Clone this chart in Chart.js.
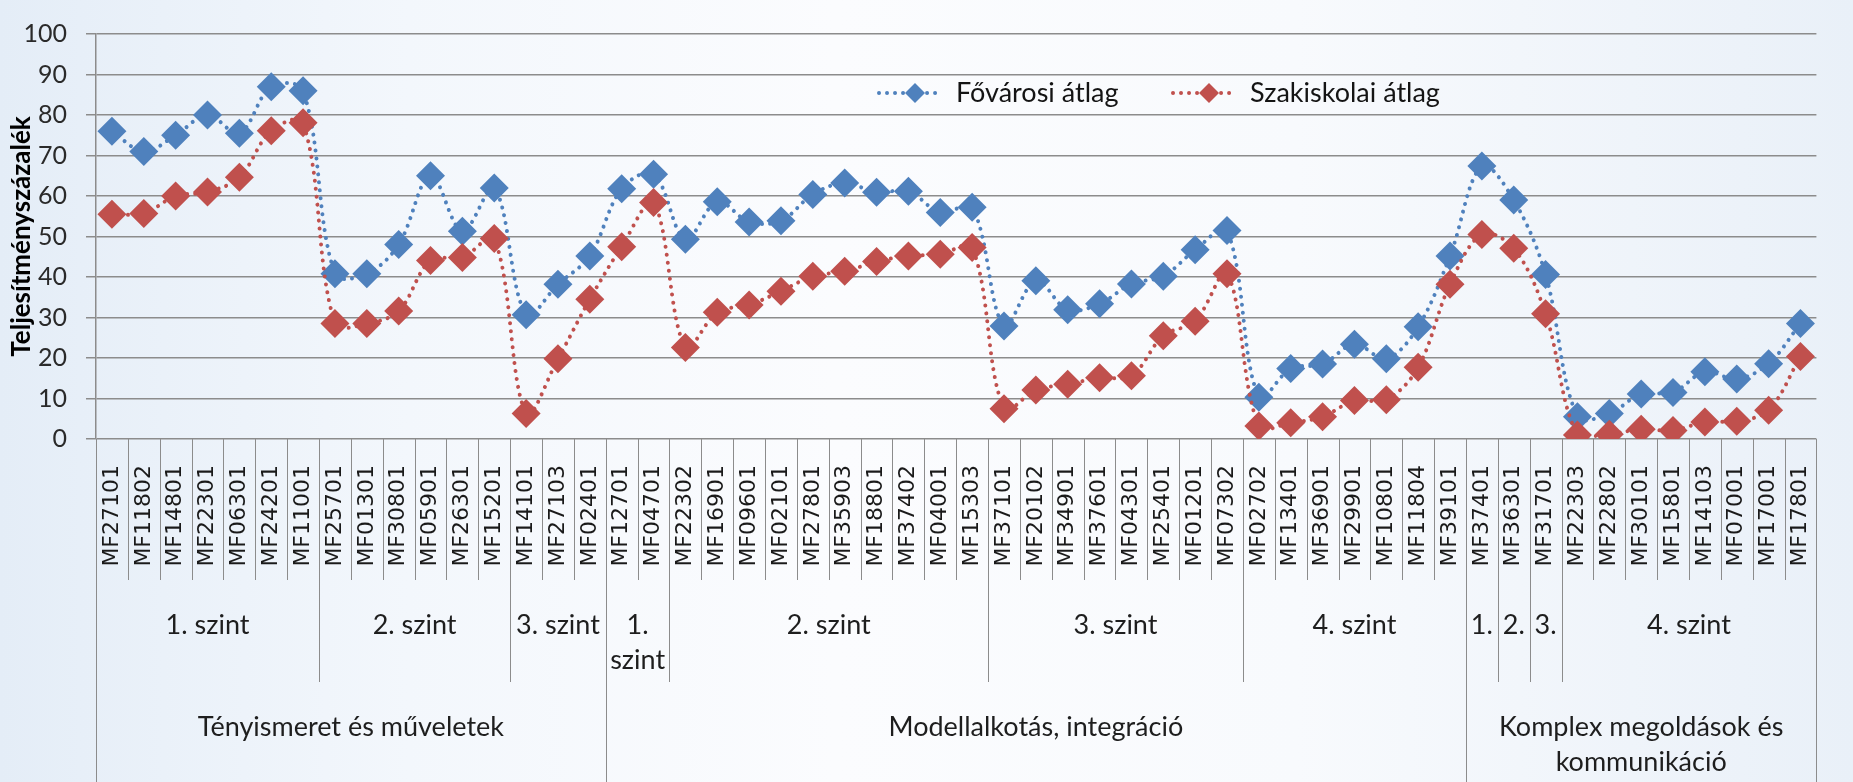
<!DOCTYPE html>
<html>
<head>
<meta charset="utf-8">
<script src="https://cdn.jsdelivr.net/npm/chart.js@4.4.1/dist/chart.umd.min.js"></script>
<style>
  html, body {
    margin: 0;
    padding: 0;
    width: 1853px;
    height: 782px;
    overflow: hidden;
    background: linear-gradient(90deg, #e4edf7 0%, #f3f7fc 22%, #fbfcfe 45%, #f8fafd 70%, #e9f0f8 100%);
  }
  #wrap { position: relative; width: 1853px; height: 782px; }
</style>
</head>
<body>
<div id="wrap"><canvas id="chart" width="1853" height="782"></canvas></div>
<script>
// Task codes along the x axis
var categories = [
  'MF27101', 'MF11802', 'MF14801', 'MF22301', 'MF06301', 'MF24201', 'MF11001',
  'MF25701', 'MF01301', 'MF30801', 'MF05901', 'MF26301', 'MF15201',
  'MF14101', 'MF27103', 'MF02401',
  'MF12701', 'MF04701',
  'MF22302', 'MF16901', 'MF09601', 'MF02101', 'MF27801', 'MF35903', 'MF18801', 'MF37402', 'MF04001', 'MF15303',
  'MF37101', 'MF20102', 'MF34901', 'MF37601', 'MF04301', 'MF25401', 'MF01201', 'MF07302',
  'MF02702', 'MF13401', 'MF36901', 'MF29901', 'MF10801', 'MF11804', 'MF39101',
  'MF37401', 'MF36301', 'MF31701',
  'MF22303', 'MF22802', 'MF30101', 'MF15801', 'MF14103', 'MF07001', 'MF17001', 'MF17801'
];

// Fővárosi átlag
var fovarosi = [
  76, 71, 75, 80, 75.5, 87, 86,
  40.8, 40.8, 48, 65, 51.3, 62,
  30.7, 38.2, 45.2,
  61.8, 65.4,
  49.3, 58.6, 53.6, 53.9, 60.4, 63.2, 60.9, 61.2, 55.9, 57.2,
  27.9, 39.1, 31.9, 33.4, 38.3, 40.2, 46.7, 51.5,
  10.3, 17.4, 18.5, 23.4, 19.8, 27.7, 45.2,
  67.4, 59.0, 40.6,
  5.5, 6.3, 11.1, 11.5, 16.6, 14.8, 18.6, 28.5
];

// Szakiskolai átlag
var szakiskolai = [
  55.5, 55.7, 60, 61, 64.6, 76.1, 78.1,
  28.5, 28.5, 31.6, 44.1, 44.8, 49.5,
  6.3, 19.8, 34.5,
  47.5, 58.4,
  22.6, 31.3, 33.1, 36.5, 40.2, 41.4, 43.8, 45.2, 45.6, 47.3,
  7.5, 12.1, 13.5, 15.1, 15.6, 25.5, 29.1, 40.8,
  3.2, 4.0, 5.5, 9.5, 9.7, 17.7, 38.2,
  50.5, 47.1, 30.9,
  1.0, 1.2, 2.4, 2.1, 4.2, 4.4, 7.1, 20.4
];

// Second label row (level) and third label row (topic), with the number of categories each spans
var levelLabels = ['1. szint', '2. szint', '3. szint', '1.\nszint', '2. szint', '3. szint', '4. szint', '1.', '2.', '3.', '4. szint'];
var levelSpans  = [7, 6, 3, 2, 10, 8, 7, 1, 1, 1, 8];
var groupLabels = ['Tényismeret és műveletek', 'Modellalkotás, integráció', 'Komplex megoldások és\nkommunikáció'];
var groupSpans  = [16, 27, 11];

var yTicks = { min: 0, max: 100, step: 10 };
var yTitle = 'Teljesítményszázalék';

var BLUE = '#4f81bd';
var RED = '#c0504d';
var AXIS_GREY = '#8c8c8c';
var TEXT_FONT = 'Lato, "Open Sans", sans-serif';

// Excel-like multi level category axis drawn under the plot
var multiLevelAxis = {
  id: 'multiLevelAxis',
  afterDraw: function(chart) {
    var ctx = chart.ctx;
    var xs = chart.scales.x;
    var area = chart.chartArea;
    var n = categories.length;
    var catBottom = area.bottom + 141;
    var levelBottom = area.bottom + 243;
    var groupBottom = chart.height;

    function boundary(i) {
      if (i <= 0) return xs.left;
      if (i >= n) return xs.right;
      return (xs.getPixelForTick(i - 1) + xs.getPixelForTick(i)) / 2;
    }

    var levelEdges = {}, groupEdges = {};
    var acc = 0;
    levelSpans.forEach(function(s) { acc += s; levelEdges[acc] = true; });
    acc = 0;
    groupSpans.forEach(function(s) { acc += s; groupEdges[acc] = true; });
    groupEdges[0] = true;

    ctx.save();
    ctx.strokeStyle = AXIS_GREY;
    ctx.lineWidth = 1;
    for (var i = 0; i <= n; i++) {
      var x = Math.round(boundary(i)) + 0.5;
      var y2 = catBottom;
      if (levelEdges[i]) y2 = levelBottom;
      if (groupEdges[i]) y2 = groupBottom;
      ctx.beginPath();
      ctx.moveTo(x, area.bottom);
      ctx.lineTo(x, y2);
      ctx.stroke();
    }

    ctx.fillStyle = '#1e1e1e';
    ctx.textAlign = 'center';
    ctx.textBaseline = 'middle';
    ctx.font = '27px ' + TEXT_FONT;

    function drawRow(labels, spans, y0) {
      var start = 0;
      labels.forEach(function(lab, k) {
        var end = start + spans[k];
        var cx = (boundary(start) + boundary(end)) / 2;
        lab.split('\n').forEach(function(line, j) {
          ctx.fillText(line, cx, y0 + j * 35);
        });
        start = end;
      });
    }
    drawRow(levelLabels, levelSpans, area.bottom + 186);
    drawRow(groupLabels, groupSpans, area.bottom + 288);
    ctx.restore();
  }
};

// Legend drawn inside the plot area
var insideLegend = {
  id: 'insideLegend',
  afterDraw: function(chart) {
    var ctx = chart.ctx;
    var items = [{ x: 879, ds: 0 }, { x: 1173, ds: 1 }];
    var y = 93;
    ctx.save();
    items.forEach(function(it) {
      var ds = chart.data.datasets[it.ds];
      var mx = it.x + 36;
      ctx.strokeStyle = ds.borderColor;
      ctx.lineWidth = 4;
      ctx.lineCap = 'round';
      ctx.setLineDash([0.01, 8]);
      ctx.beginPath();
      ctx.moveTo(it.x, y);
      ctx.lineTo(it.x + 62, y);
      ctx.stroke();
      ctx.setLineDash([]);
      ctx.fillStyle = ds.pointBackgroundColor;
      ctx.beginPath();
      ctx.moveTo(mx - 10, y);
      ctx.lineTo(mx, y - 10);
      ctx.lineTo(mx + 10, y);
      ctx.lineTo(mx, y + 10);
      ctx.closePath();
      ctx.fill();
      ctx.fillStyle = '#141414';
      ctx.font = '27px ' + TEXT_FONT;
      ctx.textAlign = 'left';
      ctx.textBaseline = 'middle';
      ctx.fillText(ds.label, it.x + 77, y);
    });
    ctx.restore();
  }
};

function seriesStyle(label, color, values, order) {
  return {
    label: label,
    data: values,
    order: order,
    borderColor: color,
    backgroundColor: color,
    borderWidth: 4,
    borderDash: [0.01, 8],
    borderCapStyle: 'round',
    tension: 0.35,
    fill: false,
    pointStyle: 'rectRot',
    pointRadius: 14.5,
    pointBorderWidth: 0,
    pointBackgroundColor: color,
    pointBorderColor: color
  };
}

var ctx = document.getElementById('chart').getContext('2d');
var chart = new Chart(ctx, {
  type: 'line',
  data: {
    labels: categories,
    datasets: [
      seriesStyle('Fővárosi átlag', BLUE, fovarosi, 1),
      seriesStyle('Szakiskolai átlag', RED, szakiskolai, 0)
    ]
  },
  options: {
    responsive: false,
    animation: false,
    layout: { padding: { top: 18, right: 10, left: 0, bottom: 0 } },
    plugins: {
      legend: { display: false },
      tooltip: { enabled: false }
    },
    scales: {
      x: {
        offset: true,
        grid: { display: false, drawTicks: false },
        border: { display: false },
        ticks: {
          autoSkip: false,
          minRotation: 90,
          maxRotation: 90,
          padding: 26,
          color: '#1a1a1a',
          font: { family: '"DejaVu Sans", sans-serif', size: 22 }
        },
        afterFit: function(scale) { scale.height = 343; }
      },
      y: {
        min: yTicks.min,
        max: yTicks.max,
        ticks: {
          stepSize: yTicks.step,
          padding: 19,
          color: '#2a2a2a',
          font: { family: TEXT_FONT, size: 25 }
        },
        grid: { color: AXIS_GREY, lineWidth: 1.5, tickLength: 10 },
        border: { color: AXIS_GREY, width: 1.5 },
        title: {
          display: true,
          text: yTitle,
          color: '#000',
          font: { family: TEXT_FONT, size: 26, weight: 'bold' },
          padding: { top: 6, bottom: 0 }
        },
        afterFit: function(scale) { scale.width = 96; }
      }
    }
  },
  plugins: [multiLevelAxis, insideLegend]
});
</script>
</body>
</html>
